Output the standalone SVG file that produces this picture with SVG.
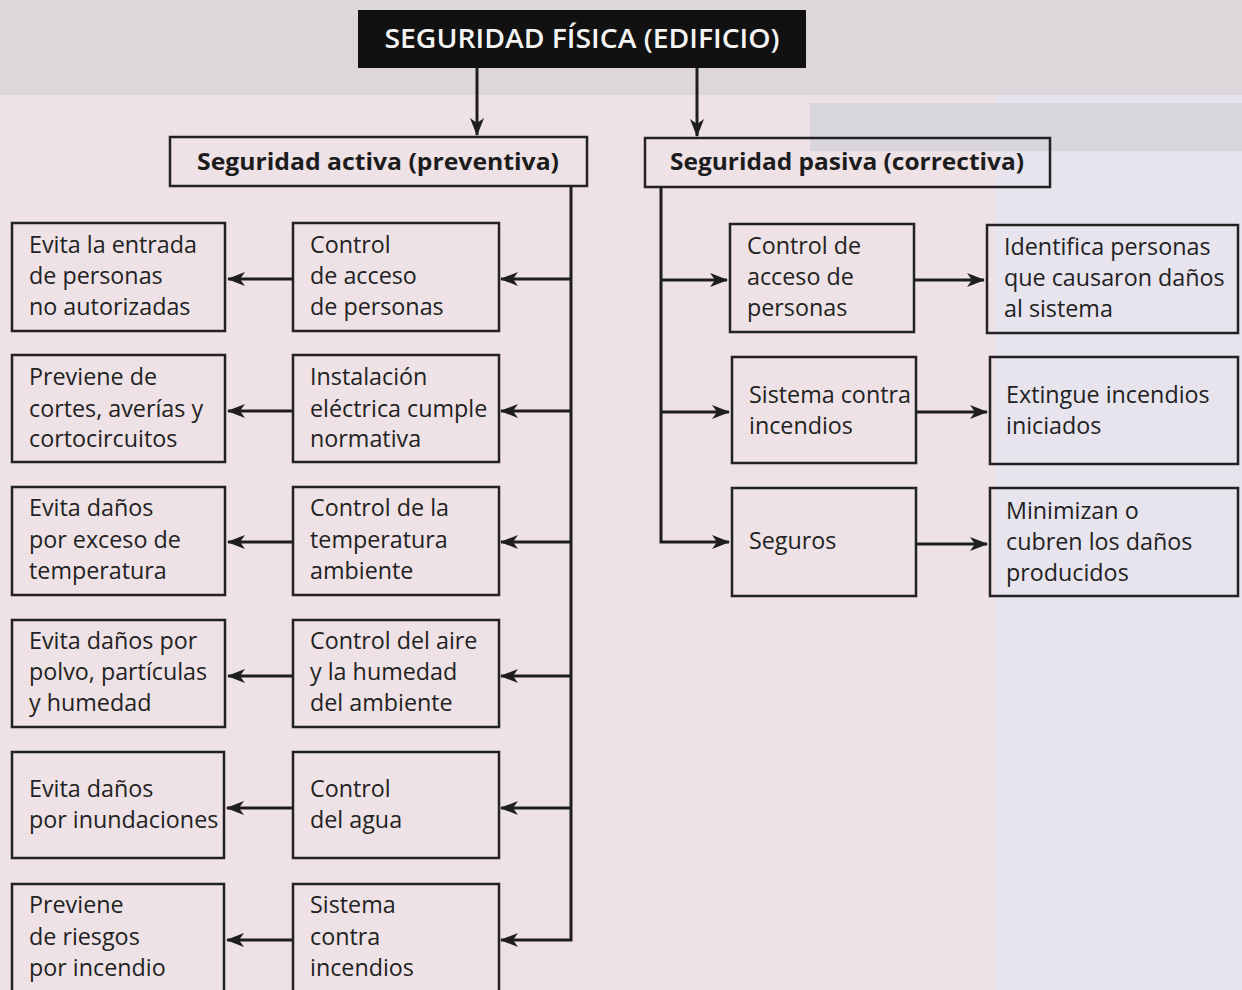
<svg xmlns="http://www.w3.org/2000/svg" width="1242" height="990" viewBox="0 0 1242 990">
  <defs>
    <style>
      .box { fill: none; stroke: #222; stroke-width: 2.5; }
      .txt { font-family: "Open Sans", "Noto Sans", "DejaVu Sans", sans-serif; font-size: 23.3px; fill: #222; }
      .hdr { font-family: "Open Sans", "Noto Sans", "DejaVu Sans", sans-serif; font-size: 23px; font-weight: 700; fill: #1c1c1c; }
      .ttl { font-family: "Open Sans", "Noto Sans", "DejaVu Sans", sans-serif; font-size: 27px; font-weight: 600; fill: #f4f4f4; }
      .wire { fill: none; stroke: #1e1e1e; stroke-width: 3; }
    </style>
    <marker id="head" viewBox="0 0 18 14" refX="17" refY="7" markerWidth="18" markerHeight="14" markerUnits="userSpaceOnUse" orient="auto">
      <path d="M0,0 L18,7 L0,14 L5,7 Z" fill="#1e1e1e"/>
    </marker>
  </defs>

  <!-- paper background -->
  <rect x="0" y="0" width="1242" height="990" fill="#ece3e7"/>
  <rect x="0" y="95" width="995" height="895" fill="#eee2e6"/>
  <rect x="995" y="95" width="247" height="895" fill="#e7e4ee"/>
  <rect x="0" y="0" width="1242" height="95" fill="#ddd6db"/>
  <rect x="810" y="103" width="432" height="48" fill="#d9d5dc"/>

  <!-- root -->
  <g id="root">
    <rect x="358" y="10" width="448" height="58" fill="#111"/>
    <text class="ttl" x="582" y="48" text-anchor="middle" textLength="395" lengthAdjust="spacingAndGlyphs">SEGURIDAD FÍSICA (EDIFICIO)</text>
  </g>

  <g id="activa">
    <rect class="box" x="170" y="137" width="417" height="49"/>
    <text class="hdr" x="378" y="170" text-anchor="middle" textLength="362" lengthAdjust="spacingAndGlyphs">Seguridad activa (preventiva)</text>
  </g>
  <g id="pasiva">
    <rect class="box" x="645" y="138" width="405" height="49"/>
    <text class="hdr" x="847" y="170" text-anchor="middle" textLength="354" lengthAdjust="spacingAndGlyphs">Seguridad pasiva (correctiva)</text>
  </g>

  <!-- active measures (middle column) -->
  <g id="a1">
    <rect class="box" x="293" y="223" width="206" height="108"/>
    <text class="txt" x="310" y="253">Control</text>
    <text class="txt" x="310" y="284">de acceso</text>
    <text class="txt" x="310" y="315">de personas</text>
  </g>
  <g id="a2">
    <rect class="box" x="293" y="355" width="206" height="107"/>
    <text class="txt" x="310" y="385">Instalación</text>
    <text class="txt" x="310" y="417">eléctrica cumple</text>
    <text class="txt" x="310" y="447">normativa</text>
  </g>
  <g id="a3">
    <rect class="box" x="293" y="487" width="206" height="108"/>
    <text class="txt" x="310" y="516">Control de la</text>
    <text class="txt" x="310" y="548">temperatura</text>
    <text class="txt" x="310" y="579">ambiente</text>
  </g>
  <g id="a4">
    <rect class="box" x="293" y="620" width="206" height="107"/>
    <text class="txt" x="310" y="649">Control del aire</text>
    <text class="txt" x="310" y="680">y la humedad</text>
    <text class="txt" x="310" y="711">del ambiente</text>
  </g>
  <g id="a5">
    <rect class="box" x="293" y="752" width="206" height="106"/>
    <text class="txt" x="310" y="797">Control</text>
    <text class="txt" x="310" y="828">del agua</text>
  </g>
  <g id="a6">
    <rect class="box" x="293" y="884" width="206" height="120"/>
    <text class="txt" x="310" y="913">Sistema</text>
    <text class="txt" x="310" y="945">contra</text>
    <text class="txt" x="310" y="976">incendios</text>
  </g>

  <!-- active effects (left column) -->
  <g id="e1">
    <rect class="box" x="12" y="223" width="213" height="108"/>
    <text class="txt" x="29" y="253">Evita la entrada</text>
    <text class="txt" x="29" y="284">de personas</text>
    <text class="txt" x="29" y="315">no autorizadas</text>
  </g>
  <g id="e2">
    <rect class="box" x="12" y="355" width="213" height="107"/>
    <text class="txt" x="29" y="385">Previene de</text>
    <text class="txt" x="29" y="417">cortes, averías y</text>
    <text class="txt" x="29" y="447">cortocircuitos</text>
  </g>
  <g id="e3">
    <rect class="box" x="12" y="487" width="213" height="108"/>
    <text class="txt" x="29" y="516">Evita daños</text>
    <text class="txt" x="29" y="548">por exceso de</text>
    <text class="txt" x="29" y="579">temperatura</text>
  </g>
  <g id="e4">
    <rect class="box" x="12" y="620" width="213" height="107"/>
    <text class="txt" x="29" y="649">Evita daños por</text>
    <text class="txt" x="29" y="680">polvo, partículas</text>
    <text class="txt" x="29" y="711">y humedad</text>
  </g>
  <g id="e5">
    <rect class="box" x="12" y="752" width="212" height="106"/>
    <text class="txt" x="29" y="797">Evita daños</text>
    <text class="txt" x="29" y="828">por inundaciones</text>
  </g>
  <g id="e6">
    <rect class="box" x="12" y="884" width="212" height="120"/>
    <text class="txt" x="29" y="913">Previene</text>
    <text class="txt" x="29" y="945">de riesgos</text>
    <text class="txt" x="29" y="976">por incendio</text>
  </g>

  <!-- passive measures -->
  <g id="p1">
    <rect class="box" x="730" y="224" width="184" height="108"/>
    <text class="txt" x="747" y="254">Control de</text>
    <text class="txt" x="747" y="285">acceso de</text>
    <text class="txt" x="747" y="316">personas</text>
  </g>
  <g id="p2">
    <rect class="box" x="732" y="357" width="184" height="106"/>
    <text class="txt" x="749" y="403">Sistema contra</text>
    <text class="txt" x="749" y="434">incendios</text>
  </g>
  <g id="p3">
    <rect class="box" x="732" y="488" width="184" height="108"/>
    <text class="txt" x="749" y="549">Seguros</text>
  </g>

  <!-- passive effects -->
  <g id="r1">
    <rect class="box" x="987" y="225" width="251" height="108"/>
    <text class="txt" x="1004" y="255">Identifica personas</text>
    <text class="txt" x="1004" y="286">que causaron daños</text>
    <text class="txt" x="1004" y="317">al sistema</text>
  </g>
  <g id="r2">
    <rect class="box" x="990" y="357" width="248" height="107"/>
    <text class="txt" x="1006" y="403">Extingue incendios</text>
    <text class="txt" x="1006" y="434">iniciados</text>
  </g>
  <g id="r3">
    <rect class="box" x="990" y="488" width="248" height="108"/>
    <text class="txt" x="1006" y="519">Minimizan o</text>
    <text class="txt" x="1006" y="550">cubren los daños</text>
    <text class="txt" x="1006" y="581">producidos</text>
  </g>

  <!-- connectors -->
  <g id="connectors">
    <line class="wire" x1="477" y1="68" x2="477" y2="135" marker-end="url(#head)"/>
    <line class="wire" x1="697" y1="68" x2="697" y2="136" marker-end="url(#head)"/>

    <!-- active trunk -->
    <polyline class="wire" points="571,186 571,940 501,940" marker-end="url(#head)"/>
    <line class="wire" x1="571" y1="279" x2="501" y2="279" marker-end="url(#head)"/>
    <line class="wire" x1="571" y1="411" x2="501" y2="411" marker-end="url(#head)"/>
    <line class="wire" x1="571" y1="542" x2="501" y2="542" marker-end="url(#head)"/>
    <line class="wire" x1="571" y1="676" x2="501" y2="676" marker-end="url(#head)"/>
    <line class="wire" x1="571" y1="808" x2="501" y2="808" marker-end="url(#head)"/>

    <line class="wire" x1="293" y1="279" x2="228" y2="279" marker-end="url(#head)"/>
    <line class="wire" x1="293" y1="411" x2="228" y2="411" marker-end="url(#head)"/>
    <line class="wire" x1="293" y1="542" x2="228" y2="542" marker-end="url(#head)"/>
    <line class="wire" x1="293" y1="676" x2="228" y2="676" marker-end="url(#head)"/>
    <line class="wire" x1="293" y1="808" x2="227" y2="808" marker-end="url(#head)"/>
    <line class="wire" x1="293" y1="940" x2="227" y2="940" marker-end="url(#head)"/>

    <!-- passive trunk -->
    <polyline class="wire" points="661,187 661,542 729,542" marker-end="url(#head)"/>
    <line class="wire" x1="661" y1="280" x2="727" y2="280" marker-end="url(#head)"/>
    <line class="wire" x1="661" y1="412" x2="729" y2="412" marker-end="url(#head)"/>

    <line class="wire" x1="914" y1="280" x2="984" y2="280" marker-end="url(#head)"/>
    <line class="wire" x1="916" y1="412" x2="987" y2="412" marker-end="url(#head)"/>
    <line class="wire" x1="916" y1="544" x2="987" y2="544" marker-end="url(#head)"/>
  </g>
</svg>
